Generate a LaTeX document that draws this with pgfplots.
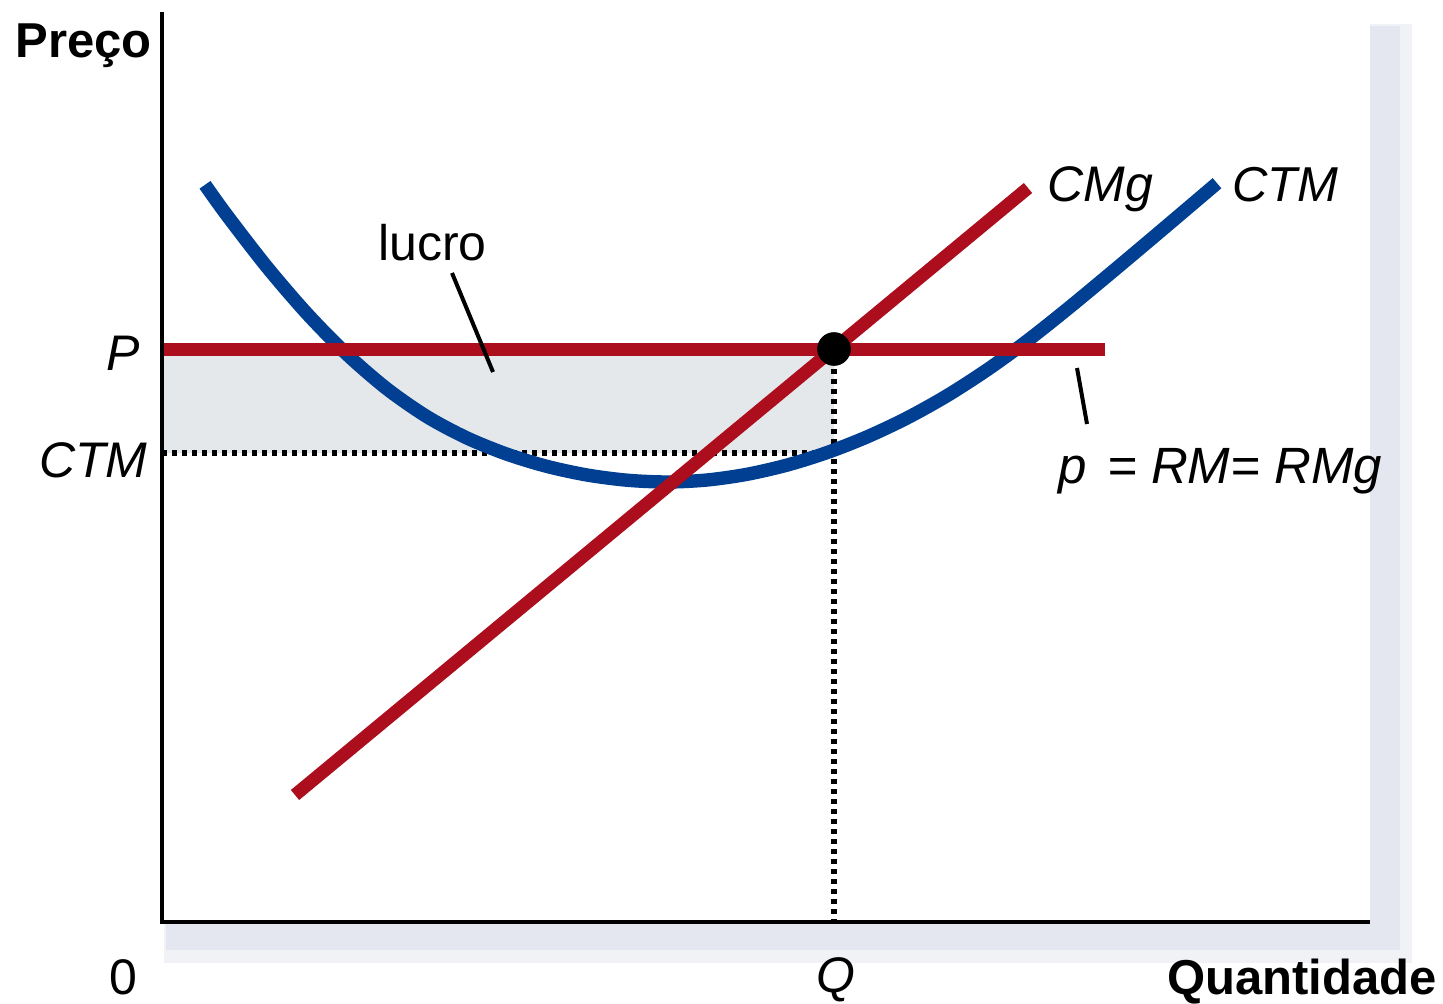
\documentclass[border=0pt]{standalone}
\usepackage{fontspec}
\setmainfont{Liberation Sans}
\usepackage{pgfplots}
\pgfplotsset{compat=1.18}
\definecolor{cred}{RGB}{172,14,30}
\definecolor{cblue}{RGB}{0,63,146}
\definecolor{cfill}{RGB}{229,232,235}
\definecolor{shadowA}{RGB}{240,242,246}
\definecolor{shadowB}{RGB}{228,231,239}
\newcommand{\lbl}{\fontsize{24.5}{29}\selectfont}
\newcommand{\lbb}{\fontsize{25}{29}\selectfont}
\begin{document}
\begin{tikzpicture}
\begin{axis}[
  scale only axis, width=604pt, height=455pt,
  xmin=0, xmax=1208, ymin=0, ymax=910,
  axis lines=none, ticks=none, clip=false,
]
% page extent
\path (axis cs:-162,-79) rectangle (axis cs:1281,922);
% shadow and plot area
\fill[shadowA] (axis cs:2,-41) rectangle (axis cs:1250,898);
\fill[shadowB] (axis cs:4,-28) rectangle (axis cs:1238,896);
\fill[white] (axis cs:0,0) rectangle (axis cs:1208,910);
% profit area
\addplot[fill=cfill, draw=none] coordinates {(0,469) (672,469) (672,573) (0,573)} -- cycle;
% dotted guides
\addplot[black, line width=2.6pt, dash pattern=on 2.5pt off 2.5pt] coordinates {(0,469) (672,469)};
\addplot[black, line width=2.6pt, dash pattern=on 2.5pt off 2.5pt] coordinates {(672,573) (672,0)};
% CTM
\addplot[cblue, line width=6.7pt, smooth] coordinates {
 (43,737.2) (65,706.6) (105,654.9) (145,608.4) (185,567.6) (225,533.1)
 (265,505.3) (305,484.0) (345,467.8) (385,455.6) (425,447.0) (465,441.8)
 (505,440.0) (545,442.0) (585,447.7) (625,456.9) (665,469.4) (705,485.1)
 (745,504.0) (785,526.3) (825,552.1) (865,581.0) (905,612.7) (945,645.8)
 (985,679.4) (1025,713.3) (1055,738.8)};
% price line
\addplot[cred, line width=6.5pt] coordinates {(0,573) (943,573)};
% CMg
\addplot[cred, line width=6.5pt] coordinates {(133,127) (866,734)};
% equilibrium point
\addplot[only marks, mark=*, mark size=8.2pt, black] coordinates {(672,573)};
% leaders
\draw[black, line width=2pt] (axis cs:290,649) -- (axis cs:331,550);
\draw[black, line width=2pt] (axis cs:915,554) -- (axis cs:925,498);
% axes
\draw[black, line width=2.2pt] (axis cs:0,910) -- (axis cs:0,0) -- (axis cs:1208,0);
% labels
\node[anchor=base west, inner sep=0pt] at (axis cs:-147,864) {\lbl\bfseries Preço};
\node[anchor=base east, inner sep=0pt] at (axis cs:1275,-72) {\lbl\bfseries Quantidade};
\node[anchor=base, inner sep=0pt] at (axis cs:-39,-72) {\lbb 0};
\node[anchor=base, inner sep=0pt] at (axis cs:674,-70) {\lbb\itshape Q};
\node[anchor=base east, inner sep=0pt] at (axis cs:-22,552) {\lbb\itshape P};
\node[anchor=base east, inner sep=0pt] at (axis cs:-14,445) {\lbb\itshape CTM};
\node[anchor=base west, inner sep=0pt] at (axis cs:885,720) {\lbb\itshape CMg};
\node[anchor=base west, inner sep=0pt] at (axis cs:1070,720) {\lbl\itshape CTM};
\node[anchor=base west, inner sep=0pt] at (axis cs:216,662) {\lbb lucro};
\node[anchor=base west, inner sep=0pt] at (axis cs:896,439) {\fontsize{25.5}{30}\selectfont\itshape p\hspace{0.4em}= RM= RMg};
\end{axis}
\end{tikzpicture}
\end{document}
